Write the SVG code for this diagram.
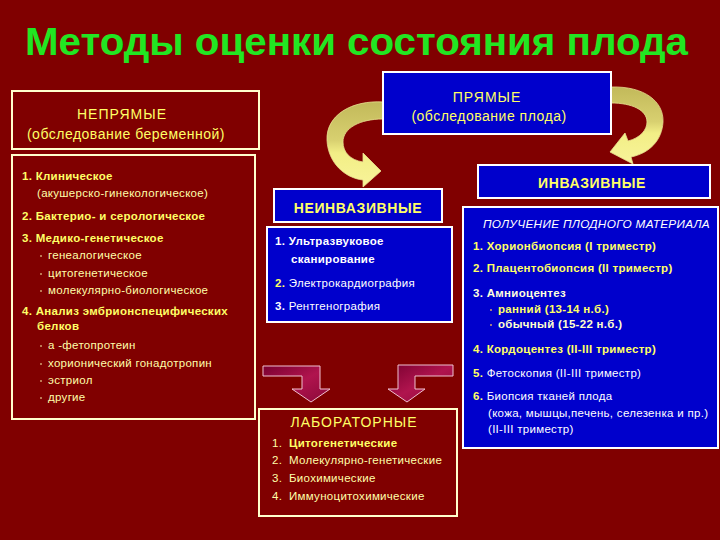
<svg xmlns="http://www.w3.org/2000/svg" width="720" height="540" viewBox="0 0 720 540">
<defs>
<linearGradient id="ribbon" x1="0" y1="0" x2="0" y2="1">
<stop offset="0" stop-color="#c2b95a"/>
<stop offset="0.45" stop-color="#d8d070"/>
<stop offset="0.6" stop-color="#f2ee86"/>
<stop offset="1" stop-color="#f8f49a"/>
</linearGradient>
<linearGradient id="block" x1="0" y1="0" x2="1" y2="1">
<stop offset="0" stop-color="#7a0030"/>
<stop offset="0.5" stop-color="#b0144e"/>
<stop offset="1" stop-color="#8a0838"/>
</linearGradient>
<style>
text{font-family:"Liberation Sans",Arial,sans-serif;}
.red{fill:#800000;stroke:#ffffcc;stroke-width:2;}
.blue{fill:#0000cc;stroke:#ffffff;stroke-width:2;}
.hd{font-size:14px;fill:#ffff66;letter-spacing:0.5px;}
.cap{letter-spacing:1px;}
.hdb{font-size:14px;font-weight:bold;fill:#ffff66;letter-spacing:0.6px;}
.b{font-size:11.5px;font-weight:bold;fill:#ffff66;letter-spacing:0.3px;}
.n{font-size:11.5px;fill:#ffffaa;letter-spacing:0.3px;}
.w{font-size:11.5px;fill:#ffffff;letter-spacing:0.3px;}
.wb{font-size:11.5px;font-weight:bold;fill:#ffffff;letter-spacing:0.3px;}
.dot{fill:#d0a070;}
.rib{fill:url(#ribbon);stroke:#e8e090;stroke-width:0.8;}
.blk{fill:url(#block);stroke:#f0c0d0;stroke-width:1;}
</style>
</defs>
<rect x="0" y="0" width="720" height="540" fill="#800000"/>

<text x="25" y="55" font-size="38" font-weight="bold" fill="#22e622" textLength="663" lengthAdjust="spacingAndGlyphs">Методы оценки состояния плода</text>

<g id="connectors">
<path class="rib" d="M383,102 C352,100 326,115 327,140 C328,163 345,178 363,180 L363,187 L381,171 L363,153 L363,162 C350,160 343,152 343,142 C343,128 360,119 383,119 Z"/>
<path class="rib" d="M611,87 C645,86 664,102 663,122 C662,140 650,153 631,157 L633,164 L610,152 L625,133 L628,141 C640,138 647,130 647,122 C647,110 632,103 611,103 Z"/>
<path class="blk" d="M263,366 L320,366 L320,389 L330,389 L311,402 L292,389 L302,389 L302,376 L263,376 Z"/>
<path class="blk" d="M453,365 L398,365 L398,389 L388,389 L407,402 L425,389 L415,389 L415,376 L453,376 Z"/>
</g>

<g id="nepryamye">
<rect class="red" x="12" y="91" width="247" height="58"/>
<text class="hd cap" x="122" y="119" text-anchor="middle">НЕПРЯМЫЕ</text>
<text class="hd" x="126" y="139" text-anchor="middle">(обследование беременной)</text>
</g>

<g id="indirect-list">
<rect class="red" x="12" y="155" width="243" height="264"/>
<text class="b" x="22" y="180">1. Клиническое</text>
<text class="n" x="37" y="197">(акушерско-гинекологическое)</text>
<text class="b" x="22" y="220">2. Бактерио- и серологическое</text>
<text class="b" x="22" y="242">3. Медико-генетическое</text>
<circle class="dot" cx="41" cy="256" r="1"/>
<text class="n" x="48" y="259">генеалогическое</text>
<circle class="dot" cx="41" cy="274" r="1"/>
<text class="n" x="48" y="277">цитогенетическое</text>
<circle class="dot" cx="41" cy="291" r="1"/>
<text class="n" x="48" y="294">молекулярно-биологическое</text>
<text class="b" x="22" y="315">4. Анализ эмбрионспецифических</text>
<text class="b" x="37" y="330">белков</text>
<circle class="dot" cx="41" cy="346" r="1"/>
<text class="n" x="48" y="349">а -фетопротеин</text>
<circle class="dot" cx="41" cy="364" r="1"/>
<text class="n" x="48" y="367">хорионический гонадотропин</text>
<circle class="dot" cx="41" cy="381" r="1"/>
<text class="n" x="48" y="384">эстриол</text>
<circle class="dot" cx="41" cy="398" r="1"/>
<text class="n" x="48" y="401">другие</text>
</g>

<g id="pryamye">
<rect class="blue" x="383" y="72" width="228" height="62"/>
<text class="hd cap" x="487" y="102" text-anchor="middle">ПРЯМЫЕ</text>
<text class="hd" x="489" y="121" text-anchor="middle">(обследование плода)</text>
</g>

<g id="neinvazivnye">
<rect class="blue" x="274" y="189" width="168" height="33"/>
<text class="hdb" x="358" y="213" text-anchor="middle">НЕИНВАЗИВНЫЕ</text>
</g>

<g id="noninvasive-list">
<rect class="blue" x="267" y="227" width="185" height="95"/>
<text class="wb" x="275" y="245">1. Ультразвуковое</text>
<text class="wb" x="291" y="263">сканирование</text>
<text class="w" x="275" y="287"><tspan class="b">2.</tspan> Электрокардиография</text>
<text class="w" x="275" y="310"><tspan class="wb">3.</tspan> Рентгенография</text>
</g>

<g id="invazivnye">
<rect class="blue" x="478" y="165" width="232" height="33"/>
<text class="hdb" x="592" y="188" text-anchor="middle">ИНВАЗИВНЫЕ</text>
</g>

<g id="invasive-list">
<rect class="blue" x="463" y="207" width="255" height="241"/>
<text class="w" x="483" y="228" font-style="italic" textLength="227" lengthAdjust="spacingAndGlyphs">ПОЛУЧЕНИЕ ПЛОДНОГО МАТЕРИАЛА</text>
<text class="b" x="473" y="250">1. Хорионбиопсия (I триместр)</text>
<text class="b" x="473" y="272">2. Плацентобиопсия (II триместр)</text>
<text class="wb" x="473" y="297" style="fill:#ffffdd">3. Амниоцентез</text>
<circle class="dot" cx="491" cy="310" r="1"/>
<text class="b" x="498" y="313">ранний (13-14 н.б.)</text>
<circle class="dot" cx="491" cy="325" r="1"/>
<text class="b" x="498" y="328" style="fill:#ffffcc">обычный (15-22 н.б.)</text>
<text class="b" x="473" y="353">4. Кордоцентез (II-III триместр)</text>
<text class="w" x="473" y="377"><tspan class="b">5.</tspan> Фетоскопия (II-III триместр)</text>
<text class="w" x="473" y="400"><tspan class="b">6.</tspan> Биопсия тканей плода</text>
<text class="w" x="488" y="417">(кожа, мышцы,печень, селезенка и пр.)</text>
<text class="w" x="488" y="433">(II-III триместр)</text>
</g>

<g id="laboratornye">
<rect class="red" x="259" y="409" width="198" height="107"/>
<text class="hd cap" x="354" y="427" text-anchor="middle">ЛАБОРАТОРНЫЕ</text>
<text class="n" x="272" y="447">1.</text>
<text class="b" x="289" y="447">Цитогенетические</text>
<text class="n" x="272" y="464">2.</text>
<text class="n" x="289" y="464">Молекулярно-генетические</text>
<text class="n" x="272" y="482">3.</text>
<text class="n" x="289" y="482">Биохимические</text>
<text class="n" x="272" y="500">4.</text>
<text class="n" x="289" y="500">Иммуноцитохимические</text>
</g>
</svg>
